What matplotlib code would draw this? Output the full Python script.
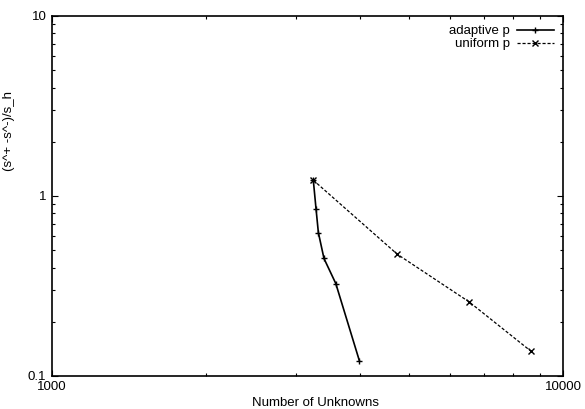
import matplotlib
matplotlib.use("Agg")
from matplotlib import pyplot
from matplotlib.ticker import LogLocator, FixedLocator, NullFormatter, FixedFormatter

pyplot.rcParams['font.family'] = ['Liberation Sans', 'DejaVu Sans']

# error ratio against number of unknowns
adaptive_n = [3246, 3287, 3321, 3406, 3592, 3994]
adaptive_err = [1.223, 0.841, 0.625, 0.449, 0.326, 0.1216]

uniform_n = [3246, 4740, 6547, 8645]
uniform_err = [1.223, 0.474, 0.258, 0.1375]

x_ticks = [1000, 10000]
x_labels = ['1000', '10000']
y_ticks = [0.1, 1, 10]
y_labels = ['0.1', '1', '10']

fs = 9.5

fig = pyplot.figure(figsize=(5.85, 4.09), dpi=100)
ax = fig.add_axes([0.0889, 0.081, 0.8735, 0.880])

ax.plot(adaptive_n, adaptive_err, color='black', lw=1.2, marker='+',
        markersize=5, markeredgewidth=1.0, label='adaptive p')
ax.plot(uniform_n, uniform_err, color='black', lw=0.9, ls=(0, (2.5, 1.5)),
        marker='x', markersize=4.5, markeredgewidth=1.0, label='uniform p')

ax.set_xscale('log')
ax.set_yscale('log')
ax.set_xlim(1000, 10000)
ax.set_ylim(0.1, 10)

ax.xaxis.set_major_locator(FixedLocator(x_ticks))
ax.xaxis.set_major_formatter(FixedFormatter(x_labels))
ax.yaxis.set_major_locator(FixedLocator(y_ticks))
ax.yaxis.set_major_formatter(FixedFormatter(y_labels))
ax.xaxis.set_minor_locator(LogLocator(base=10, subs=range(2, 10)))
ax.yaxis.set_minor_locator(LogLocator(base=10, subs=range(2, 10)))
ax.xaxis.set_minor_formatter(NullFormatter())
ax.yaxis.set_minor_formatter(NullFormatter())

ax.tick_params(which='both', direction='in', top=True, right=True,
               labelsize=fs, width=0.8, pad=4)
ax.tick_params(which='major', length=4)
ax.tick_params(which='minor', length=2.5)
for s in ax.spines.values():
    s.set_linewidth(1.2)

ax.set_xlabel('Number of Unknowns', fontsize=fs)
ax.xaxis.set_label_coords(0.515, -0.058)
ax.set_ylabel('(s^+ -s^-)/s_h', fontsize=fs)
ax.yaxis.set_label_coords(-0.072, 0.68)

ax.legend(loc='upper right', frameon=False, markerfirst=False, fontsize=fs,
          handlelength=2.8, handletextpad=0.5, borderaxespad=0.3,
          labelspacing=0.05)

pyplot.savefig('out.png', dpi=100)
